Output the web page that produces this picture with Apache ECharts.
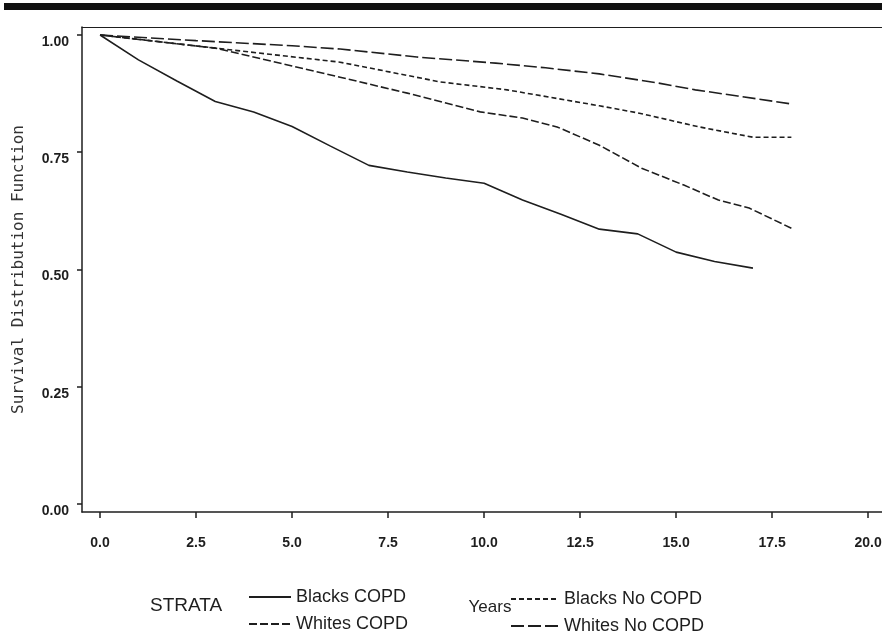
<!DOCTYPE html>
<html>
<head>
<meta charset="utf-8">
<script src="https://cdn.jsdelivr.net/npm/echarts@6/dist/echarts.min.js"></script>
<style>html,body{margin:0;padding:0;background:#fff}#c{width:882px;height:637px}</style>
</head>
<body>
<div id="c"></div>
<script>
// ---- data ----
var xTicks = [0, 2.5, 5, 7.5, 10, 12.5, 15, 17.5, 20];
var yTicks = [0, 0.25, 0.5, 0.75, 1];
var seriesNames = ['Blacks COPD', 'Whites COPD', 'Blacks No COPD', 'Whites No COPD'];

var blacksCopd = [[0,1.0],[1,0.947],[2,0.902],[3,0.858],[4,0.836],[5,0.805],[6,0.763],[7,0.722],[8,0.708],[9,0.695],[10,0.684],[11,0.648],[12,0.618],[13,0.586],[14,0.576],[15,0.537],[16,0.517],[17,0.503]];
var whitesCopd = [[0,1.0],[3,0.972],[5,0.934],[6.25,0.91],[8,0.876],[9.9,0.836],[11,0.823],[11.9,0.804],[13,0.765],[14.1,0.716],[15.2,0.68],[16.1,0.648],[16.9,0.631],[18,0.588]];
var blacksNoCopd = [[0,1.0],[3,0.972],[6.25,0.942],[8.85,0.90],[10.6,0.883],[13,0.849],[14,0.834],[15.6,0.804],[17,0.782],[18,0.782]];
var whitesNoCopd = [[0,1.0],[2.5,0.988],[5,0.977],[6.25,0.97],[8.25,0.953],[10.3,0.94],[11.6,0.93],[13,0.917],[14.5,0.898],[15.5,0.883],[16.6,0.87],[18,0.853]];

var chart = echarts.init(document.getElementById('c'), null, {renderer: 'canvas'});
var ink = '#1e1e1e';
function mk(name, data, dash) {
  return {
    name: name, type: 'line', data: data, symbol: 'none', smooth: false,
    lineStyle: {color: ink, width: 1.6, type: dash},
    itemStyle: {color: ink},
    emphasis: {disabled: true}, animation: false
  };
}
var sans = '"Liberation Sans", Arial, sans-serif';
var legendText = {fontFamily: sans, fontSize: 18, color: ink, lineHeight: 18};
var legendBase = {orient: 'vertical', itemHeight: 12, itemGap: 9, height: 70,
  itemStyle: {opacity: 0}, textStyle: legendText, selectedMode: false};
chart.setOption({
  animation: false,
  backgroundColor: '#fff',
  grid: {left: 82, right: 0, top: 27, bottom: 125, containLabel: false, outerBoundsMode: 'none'},
  graphic: [
    {type: 'rect', shape: {x: 4, y: 3, width: 878, height: 7}, style: {fill: '#111'}},
    {type: 'text', left: 150, top: 596, style: {text: 'STRATA', font: '19px "Liberation Sans", Arial, sans-serif', fill: ink}}
  ],
  legend: [
    Object.assign({data: [seriesNames[0], seriesNames[1]], left: 243, top: 583, itemWidth: 42}, legendBase),
    Object.assign({data: [seriesNames[2], seriesNames[3]], left: 505, top: 585, itemWidth: 48}, legendBase)
  ],
  xAxis: [{
    type: 'value', min: -0.47, max: 20.36,
    name: 'Years', nameLocation: 'middle', nameGap: 87,
    nameTextStyle: {fontFamily: sans, fontSize: 17, color: ink, padding: [0, 0, 0, 16]},
    axisLine: {show: true, onZero: false, lineStyle: {color: ink, width: 1.5}},
    axisTick: {show: true, length: 6, customValues: xTicks, lineStyle: {color: ink, width: 1.5}},
    axisLabel: {customValues: xTicks, margin: 24, formatter: function (v) { return v.toFixed(1); },
      fontFamily: sans, fontSize: 14, fontWeight: 'bold', color: ink},
    splitLine: {show: false}
  }, {
    type: 'value', position: 'top', min: -0.47, max: 20.36,
    axisLine: {show: true, onZero: false, lineStyle: {color: ink, width: 1.2}},
    axisTick: {show: false}, axisLabel: {show: false}, splitLine: {show: false}
  }],
  yAxis: {
    type: 'value', min: -0.017, max: 1.017,
    name: 'Survival Distribution Function', nameLocation: 'middle', nameGap: 55, nameRotate: 90,
    nameTextStyle: {fontFamily: '"DejaVu Sans Mono", monospace', fontSize: 16, color: '#333'},
    axisLine: {show: true, onZero: false, lineStyle: {color: ink, width: 1.5}},
    axisTick: {show: true, length: 5, customValues: yTicks, lineStyle: {color: ink, width: 1.5}},
    axisLabel: {customValues: yTicks, margin: 13, verticalAlign: 'top', formatter: function (v) { return v.toFixed(2); },
      fontFamily: sans, fontSize: 14, fontWeight: 'bold', color: ink},
    splitLine: {show: false}
  },
  series: [
    mk(seriesNames[0], blacksCopd, 'solid'),
    mk(seriesNames[1], whitesCopd, [8, 3]),
    mk(seriesNames[2], blacksNoCopd, [5, 3]),
    mk(seriesNames[3], whitesNoCopd, [13, 4])
  ]
});
</script>
</body>
</html>
